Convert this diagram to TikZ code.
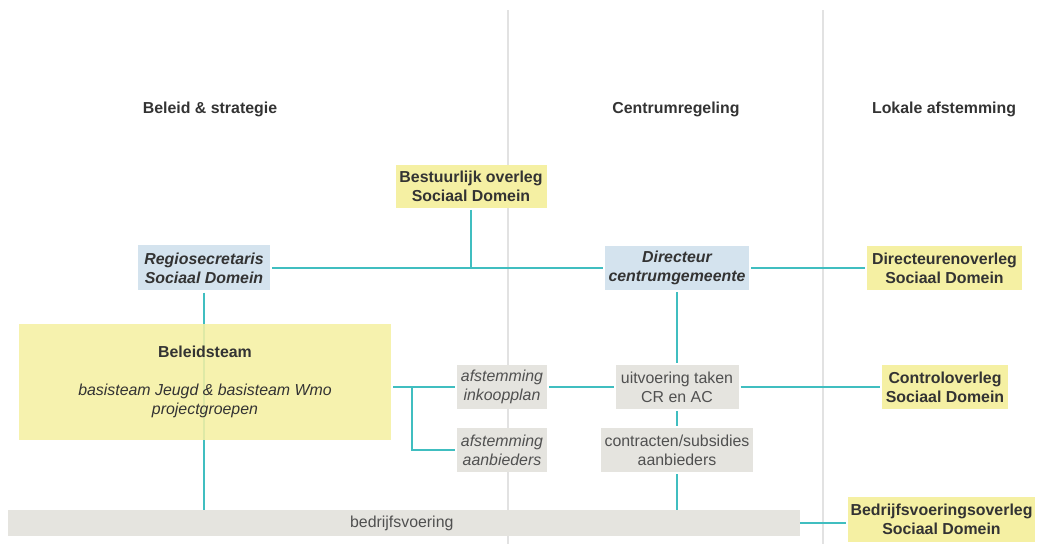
\documentclass[tikz,border=0pt]{standalone}
\usepackage{fontspec}
\setmainfont{Liberation Sans}
\usetikzlibrary{positioning, calc, backgrounds}
\definecolor{cConn}{RGB}{64, 190, 192}
\definecolor{cOverleg}{RGB}{245, 240, 163}
\definecolor{cFunctie}{RGB}{212, 227, 238}
\definecolor{cTaak}{RGB}{229, 228, 223}
\definecolor{cText}{RGB}{51, 51, 51}
\definecolor{cTaakText}{RGB}{80, 80, 80}
\definecolor{cKolom}{RGB}{226, 226, 226}
\newdimen\px \px=0.025cm
\tikzset{
    % kolomkoppen
    headNode/.style={font=\bfseries, text=cText},
    % overlegorganen (geel)
    overlegNode/.style={
        rectangle, fill=cOverleg, inner sep=0pt, outer sep=2\px,
        align=center, font=\bfseries, text=cText
    },
    % functies (blauw)
    functieNode/.style={
        rectangle, fill=cFunctie, inner sep=0pt, outer sep=2\px,
        align=center, font=\bfseries\itshape, text=cText
    },
    % taken (grijs)
    taakNode/.style={
        rectangle, fill=cTaak, inner sep=0pt, outer sep=2\px,
        align=center, text=cTaakText
    },
    % lijnen
    conn/.style={draw=cConn, line width=1.4pt},
    kolom/.style={draw=cKolom, line width=1pt}
}

\begin{document}
\fontsize{11.3}{13.5}\selectfont
\begin{tikzpicture}[x=0.025cm, y=-0.025cm]
	\useasboundingbox (0,0) rectangle (1038,544);

	% 1. Kolomkoppen
	\node[headNode] (hBeleid) at (210,109) {Beleid \& strategie};
	\node[headNode] (hCentrum) at (676,109) {Centrumregeling};
	\node[headNode] (hLokaal) at (944,109) {Lokale afstemming};

	% 2. Bovenste laag
	\node[overlegNode, minimum width=151\px, minimum height=43\px] (bestuur) at (471,186.5) {
		Bestuurlijk overleg\\Sociaal Domein
	};
	\node[functieNode, minimum width=132\px, minimum height=45\px] (regio) at (204,268) {
		Regiosecretaris\\Sociaal Domein
	};
	\node[functieNode, minimum width=144\px, minimum height=44\px] (directeur) at (677,268) {
		Directeur\\centrumgemeente
	};
	\node[overlegNode, minimum width=155\px, minimum height=44\px] (dirOverleg) at (944.5,268) {
		Directeurenoverleg\\Sociaal Domein
	};

	% 3. Beleidsteam
	\node[overlegNode, font=\normalfont, fill opacity=0.88, text opacity=1,
		minimum width=372\px, minimum height=116\px] (beleid) at (205,382) {
		\textbf{Beleidsteam}\\[14pt]
		\textit{basisteam Jeugd \& basisteam Wmo}\\
		\textit{projectgroepen}
	};

	% 4. Afstemming en uitvoering
	\node[taakNode, font=\itshape, minimum width=90\px, minimum height=44\px] (inkoop) at (502,387) {
		afstemming\\inkoopplan
	};
	\node[taakNode, font=\itshape, minimum width=90\px, minimum height=44\px, below=15\px of inkoop] (aanbieders) {
		afstemming\\aanbieders
	};
	\node[taakNode, minimum width=123\px, minimum height=44\px] (uitvoering) at (677,387) {
		uitvoering taken\\CR en AC
	};
	\node[taakNode, minimum width=152\px, minimum height=44\px, below=15\px of uitvoering] (contracten) {
		contracten/subsidies\\aanbieders
	};
	\node[overlegNode, minimum width=126\px, minimum height=44\px] (controle) at (945,387) {
		Controloverleg\\Sociaal Domein
	};

	% 5. Bedrijfsvoering
	\node[taakNode, outer sep=0pt, minimum width=792\px, minimum height=26\px] (bedrijf) at (404,523) {
		bedrijfsvoering
	};
	\node[overlegNode, minimum width=187\px, minimum height=45\px] (bvOverleg) at (941.5,519.5) {
		Bedrijfsvoeringsoverleg\\Sociaal Domein
	};

	% 6. Kolommen en verbindingen
	\begin{pgfonlayer}{background}
		\draw[kolom] (508,10) -- (508,544);
		\draw[kolom] (823,10) -- (823,544);

		\draw[conn] (bestuur.south) -- (bestuur.south |- regio.east);
		\draw[conn] (regio.east) -- (directeur.west);
		\draw[conn] (directeur.east) -- (dirOverleg.west);
		\draw[conn] (regio.south) -- (regio.south |- bedrijf.north);

		\draw[conn] (directeur.south) -- (uitvoering.north);
		\draw[conn] (uitvoering.south) -- (contracten.north);
		\draw[conn] (contracten.south) -- (contracten.south |- bedrijf.north);

		\draw[conn] (beleid.east |- inkoop.west) -- (inkoop.west);
		\coordinate (split) at ($(beleid.east |- inkoop.west)+(19,0)$);
		\draw[conn] (split) |- (aanbieders.west);
		\draw[conn] (inkoop.east) -- (uitvoering.west);
		\draw[conn] (uitvoering.east) -- (controle.west);

		\draw[conn] (bedrijf.east) -- (bedrijf.east -| bvOverleg.west);
	\end{pgfonlayer}

\end{tikzpicture}
\end{document}
